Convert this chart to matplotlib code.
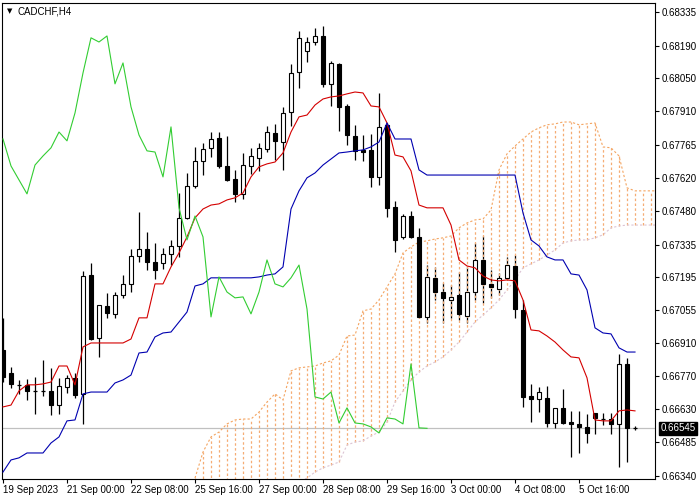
import matplotlib
matplotlib.use("Agg")
from matplotlib import pyplot as plt
from matplotlib.patches import Rectangle

plt.rcParams['font.family'] = ['Liberation Sans', 'DejaVu Sans']

SYMBOL = "CADCHF,H4"

# H4 candles, oldest first
openP = [0.66882, 0.66783, 0.66736, 0.66732, 0.66706, 0.66706, 0.66706, 0.66645, 0.66723, 0.66762,
         0.66693, 0.67204, 0.66934, 0.67071, 0.67037, 0.67118, 0.67166, 0.67286, 0.67316, 0.67260,
         0.67256, 0.67295, 0.67329, 0.67450, 0.67587, 0.67695, 0.67751, 0.67794, 0.67673, 0.67617,
         0.67553, 0.67673, 0.67708, 0.67746, 0.67815, 0.67776, 0.67905, 0.68077, 0.68168, 0.68206,
         0.68232, 0.68026, 0.68112, 0.67931, 0.67802, 0.67742, 0.67742, 0.67626, 0.67850, 0.67497,
         0.67368, 0.67458, 0.67368, 0.67024, 0.67192, 0.67131, 0.67097, 0.67118, 0.67028, 0.67131,
         0.67269, 0.67166, 0.67144, 0.67192, 0.67243, 0.67054, 0.66684, 0.66671, 0.66676, 0.66568,
         0.66633, 0.66572, 0.66564, 0.66551, 0.66611, 0.66585, 0.66585, 0.66564, 0.66822, 0.66547]
highP = [0.67020, 0.66809, 0.66753, 0.66757, 0.66766, 0.66839, 0.66805, 0.66762, 0.66774, 0.66783,
         0.67222, 0.67256, 0.67075, 0.67127, 0.67131, 0.67204, 0.67316, 0.67475, 0.67389, 0.67342,
         0.67321, 0.67355, 0.67557, 0.67643, 0.67755, 0.67772, 0.67819, 0.67819, 0.67802, 0.67656,
         0.67729, 0.67751, 0.67772, 0.67845, 0.67854, 0.67927, 0.68112, 0.68254, 0.68228, 0.68267,
         0.68275, 0.68125, 0.68116, 0.67940, 0.67850, 0.67806, 0.67811, 0.67987, 0.67858, 0.67523,
         0.67467, 0.67480, 0.67407, 0.67247, 0.67239, 0.67170, 0.67161, 0.67217, 0.67239, 0.67342,
         0.67372, 0.67226, 0.67213, 0.67282, 0.67290, 0.67097, 0.66736, 0.66723, 0.66727, 0.66633,
         0.66714, 0.66620, 0.66620, 0.66607, 0.66611, 0.66611, 0.66611, 0.66865, 0.66848, 0.66555]
lowP = [0.66744, 0.66719, 0.66693, 0.66667, 0.66607, 0.66684, 0.66602, 0.66607, 0.66697, 0.66676,
        0.66564, 0.66925, 0.66852, 0.67020, 0.67020, 0.67106, 0.67131, 0.67260, 0.67226, 0.67187,
        0.67230, 0.67247, 0.67282, 0.67445, 0.67579, 0.67634, 0.67712, 0.67665, 0.67609, 0.67518,
        0.67531, 0.67639, 0.67652, 0.67733, 0.67699, 0.67656, 0.67845, 0.68009, 0.68120, 0.68194,
        0.68013, 0.67931, 0.67824, 0.67764, 0.67699, 0.67695, 0.67583, 0.67591, 0.67454, 0.67303,
        0.67359, 0.67364, 0.67020, 0.66998, 0.67097, 0.66998, 0.67020, 0.67011, 0.66998, 0.67097,
        0.67084, 0.67106, 0.67118, 0.67183, 0.67020, 0.66637, 0.66572, 0.66615, 0.66551, 0.66547,
        0.66564, 0.66422, 0.66439, 0.66482, 0.66521, 0.66559, 0.66521, 0.66379, 0.66400, 0.66538]
closeP = [0.66766, 0.66736, 0.66732, 0.66706, 0.66706, 0.66706, 0.66645, 0.66727, 0.66762, 0.66688,
          0.67200, 0.66929, 0.67075, 0.67041, 0.67118, 0.67166, 0.67286, 0.67316, 0.67260, 0.67226,
          0.67295, 0.67329, 0.67450, 0.67587, 0.67695, 0.67746, 0.67789, 0.67673, 0.67613, 0.67553,
          0.67677, 0.67716, 0.67751, 0.67819, 0.67781, 0.67901, 0.68073, 0.68224, 0.68206, 0.68232,
          0.68026, 0.68116, 0.67927, 0.67806, 0.67738, 0.67733, 0.67626, 0.67841, 0.67493, 0.67355,
          0.67458, 0.67368, 0.67024, 0.67196, 0.67131, 0.67106, 0.67110, 0.67037, 0.67131, 0.67269,
          0.67166, 0.67153, 0.67192, 0.67247, 0.67058, 0.66680, 0.66671, 0.66701, 0.66568, 0.66633,
          0.66568, 0.66564, 0.66551, 0.66525, 0.66590, 0.66585, 0.66564, 0.66822, 0.66547, 0.66545]

# Ichimoku lines
tenkan = [0.66637, 0.66645, 0.66706, 0.66732, 0.66732, 0.66736, 0.66744, 0.66813, 0.66813, 0.66732,
          0.66895, 0.66912, 0.66912, 0.66912, 0.66912, 0.66912, 0.66929, 0.67020, 0.67020, 0.67166,
          0.67166, 0.67239, 0.67299, 0.67368, 0.67450, 0.67488, 0.67505, 0.67510, 0.67527, 0.67536,
          0.67557, 0.67626, 0.67669, 0.67682, 0.67690, 0.67729, 0.67819, 0.67884, 0.67892, 0.67935,
          0.67961, 0.67970, 0.67974, 0.67983, 0.67991, 0.67987, 0.67931, 0.67927, 0.67858, 0.67720,
          0.67712, 0.67652, 0.67505, 0.67493, 0.67493, 0.67493, 0.67419, 0.67269, 0.67243, 0.67235,
          0.67200, 0.67183, 0.67179, 0.67183, 0.67179, 0.67097, 0.66968, 0.66964, 0.66942, 0.66916,
          0.66882, 0.66852, 0.66848, 0.66762, 0.66581, 0.66577, 0.66577, 0.66620, 0.66624, 0.66620]
kijun = [0.66357, 0.66409, 0.66418, 0.66439, 0.66439, 0.66439, 0.66482, 0.66508, 0.66577, 0.66581,
         0.66693, 0.66701, 0.66701, 0.66701, 0.66740, 0.66753, 0.66774, 0.66869, 0.66873, 0.66938,
         0.66955, 0.66959, 0.67002, 0.67045, 0.67157, 0.67166, 0.67192, 0.67192, 0.67192, 0.67192,
         0.67192, 0.67192, 0.67196, 0.67204, 0.67209, 0.67239, 0.67488, 0.67566, 0.67622, 0.67643,
         0.67677, 0.67703, 0.67729, 0.67733, 0.67738, 0.67742, 0.67755, 0.67776, 0.67858, 0.67789,
         0.67789, 0.67789, 0.67656, 0.67634, 0.67634, 0.67634, 0.67634, 0.67634, 0.67634, 0.67634,
         0.67634, 0.67634, 0.67634, 0.67634, 0.67634, 0.67471, 0.67355, 0.67329, 0.67282, 0.67269,
         0.67269, 0.67209, 0.67204, 0.67140, 0.66977, 0.66955, 0.66951, 0.66891, 0.66873, 0.66873]

# cloud, starting at bar CLOUD_START and running past the last candle
CLOUD_START = 24
spanA = [0.66331, 0.66443, 0.66508, 0.66529, 0.66564, 0.66581, 0.66585, 0.66585, 0.66615, 0.66658,
         0.66693, 0.66667, 0.66792, 0.66805, 0.66809, 0.66813, 0.66826, 0.66835, 0.66860, 0.66942,
         0.66946, 0.67050, 0.67058, 0.67097, 0.67153, 0.67209, 0.67299, 0.67325, 0.67346, 0.67351,
         0.67359, 0.67364, 0.67372, 0.67407, 0.67428, 0.67441, 0.67445, 0.67484, 0.67656, 0.67725,
         0.67759, 0.67789, 0.67819, 0.67837, 0.67850, 0.67854, 0.67862, 0.67862, 0.67850, 0.67854,
         0.67858, 0.67755, 0.67751, 0.67716, 0.67579, 0.67566, 0.67566, 0.67566, 0.67566]
spanB = [0.66237, 0.66246, 0.66250, 0.66254, 0.66259, 0.66263, 0.66267, 0.66271, 0.66276, 0.66280,
         0.66284, 0.66289, 0.66297, 0.66314, 0.66331, 0.66357, 0.66375, 0.66387, 0.66400, 0.66473,
         0.66486, 0.66491, 0.66512, 0.66529, 0.66572, 0.66658, 0.66706, 0.66753, 0.66787, 0.66813,
         0.66830, 0.66852, 0.66882, 0.66916, 0.66959, 0.67002, 0.67032, 0.67063, 0.67097, 0.67140,
         0.67183, 0.67235, 0.67252, 0.67269, 0.67290, 0.67312, 0.67342, 0.67351, 0.67355, 0.67355,
         0.67364, 0.67377, 0.67407, 0.67415, 0.67419, 0.67419, 0.67419, 0.67419, 0.67419]

CHIKOU_SHIFT = 26
LAST_PRICE = 0.66545

PRICE_TICKS = [0.68335, 0.68190, 0.68050, 0.67910, 0.67765, 0.67620, 0.67480, 0.67335,
               0.67195, 0.67055, 0.66910, 0.66770, 0.66630, 0.66485, 0.66340]
TIME_LABEL_BARS = [0, 8, 16, 24, 32, 40, 48, 56, 64, 72]
TIME_LABELS = ["19 Sep 2023", "21 Sep 00:00", "22 Sep 08:00", "25 Sep 16:00", "27 Sep 00:00",
               "28 Sep 08:00", "29 Sep 16:00", "3 Oct 00:00", "4 Oct 08:00", "5 Oct 16:00"]

fig = plt.figure(figsize=(7, 5), dpi=100)
ax = fig.add_axes([2 / 700, 21 / 500, 653 / 700, 476 / 500])

nbBars = len(closeP)
bodyWidth = 0.55

# wicks first, the cloud hatch goes over them, bodies above
ax.vlines(range(nbBars), lowP, highP, colors="black", linewidth=0.9, zorder=1)
for i in range(nbBars):
	o, c = openP[i], closeP[i]
	if abs(c - o) < 0.00005:
		ax.hlines(c, i - bodyWidth / 2, i + bodyWidth / 2, colors="black", linewidth=0.9, zorder=3)
	else:
		face = "white" if c > o else "black"
		ax.add_patch(Rectangle((i - bodyWidth / 2, min(o, c)), bodyWidth, abs(c - o),
							   facecolor=face, edgecolor="black", linewidth=0.8, zorder=3))

cloudX = list(range(CLOUD_START, CLOUD_START + len(spanA)))
hatchColor = "#F5AC74"
for k in range(len(cloudX)):
	ax.plot([cloudX[k], cloudX[k]], [spanB[k], spanA[k]], color=hatchColor, linewidth=0.9,
			linestyle=(0, (2.0, 1.9)), dash_capstyle="butt", zorder=2)
ax.plot(cloudX, spanA, color="#F4A460", linewidth=0.8, linestyle=(0, (2.0, 1.9)), zorder=2)
ax.plot(cloudX, spanB, color="#DCC4D4", linewidth=0.8, linestyle=(0, (2.0, 1.9)), zorder=2)

ax.plot(range(nbBars), tenkan, color="#D40000", linewidth=0.8, zorder=4)
ax.plot(range(nbBars), kijun, color="#0000B0", linewidth=0.8, zorder=4)
# chikou span is the close moved back 26 bars
chikou = closeP[CHIKOU_SHIFT:]
ax.plot(range(len(chikou)), chikou, color="#32CD32", linewidth=0.8, zorder=4)

ax.axhline(LAST_PRICE, color="#C0C0C0", linewidth=0.9, zorder=0.5)

ax.set_xlim(-0.125, 81.5)
ax.set_ylim(0.663271, 0.683737)

ax.yaxis.tick_right()
ax.set_yticks(PRICE_TICKS)
ax.set_yticklabels(["{:.5f}".format(p) for p in PRICE_TICKS])
ax.set_xticks(TIME_LABEL_BARS)
ax.set_xticklabels(TIME_LABELS, ha="left")
ax.tick_params(axis="both", direction="out", length=3, width=0.8, labelsize=7, colors="black", pad=2)
ax.tick_params(axis="x", pad=1)
for spine in ax.spines.values():
	spine.set_linewidth(0.8)
	spine.set_color("black")

ax.annotate("{:.5f}".format(LAST_PRICE), xy=(1, LAST_PRICE), xycoords=("axes fraction", "data"),
			xytext=(4, 0), textcoords="offset points", va="center", ha="left", fontsize=7,
			color="white", bbox=dict(boxstyle="square,pad=0.15", facecolor="black", edgecolor="black"))

fig.text(7 / 700, 1 - 11 / 500, "\u25BC", fontsize=5, va="center", ha="left", family=["DejaVu Sans"])
fig.text(18 / 700, 1 - 11 / 500, SYMBOL, fontsize=7, va="center", ha="left")

fig.savefig("out.png", dpi=100)
plt.close()
